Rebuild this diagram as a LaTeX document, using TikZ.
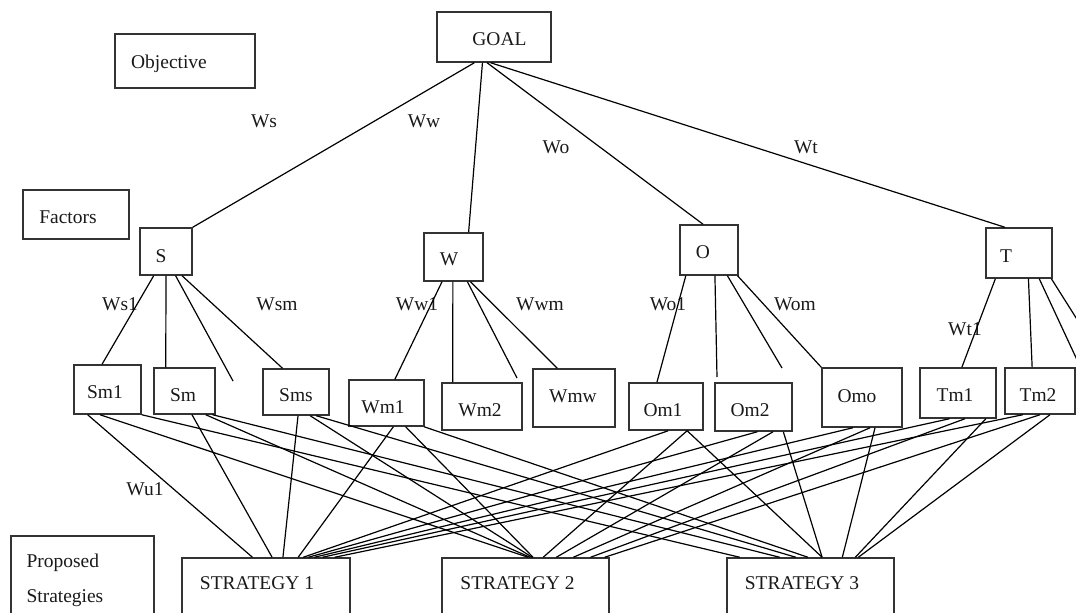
\documentclass[tikz,border=0pt]{standalone}
\usepackage{fontspec}
\setmainfont{Liberation Serif}
\usetikzlibrary{calc}
\begin{document}
\begin{tikzpicture}[x=0.75pt,y=-0.75pt,
  box/.style={draw=black!80, line width=1.1pt, rectangle, inner sep=0pt},
  txt/.style={font=\fontsize{14.6}{17}\selectfont, text height=10pt, text depth=0pt, inner sep=0pt, text=black!90},
  link/.style={line width=0.9pt, black}]
\clip (0,0) rectangle (1076,613);
% level 0 / legend
\node[box, minimum width=105pt, minimum height=40.5pt, label={[txt, xshift=-12pt, yshift=-0.75pt]center:Objective}] (obj) at (185,61) {};
\node[box, minimum width=85.5pt, minimum height=37.5pt, label={[txt, xshift=4.1pt, yshift=-1.5pt]center:GOAL}] (goal) at (494,37) {};
\node[box, minimum width=79.5pt, minimum height=36.75pt, label={[txt, xshift=-6pt, yshift=-1.9pt]center:Factors}] (fac) at (76,214.5) {};
% level 1
\node[box, minimum width=39pt, minimum height=35.25pt, label={[txt, xshift=-3.75pt, yshift=-3.4pt]center:S}] (S) at (166,251.5) {};
\node[box, minimum width=44.25pt, minimum height=36pt, label={[txt, xshift=-3.4pt, yshift=-1.5pt]center:W}] (W) at (453.5,257) {};
\node[box, minimum width=43.5pt, minimum height=37.5pt, label={[txt, xshift=-4.5pt, yshift=-1.5pt]center:O}] (O) at (709,250) {};
\node[box, minimum width=49.5pt, minimum height=37.5pt, label={[txt, xshift=-9.75pt, yshift=-2.25pt]center:T}] (T) at (1019,253) {};
% level 2
\node[box, minimum width=50.25pt, minimum height=36.75pt, label={[txt, xshift=-1.9pt, yshift=-1.9pt]center:Sm1}] (Sm1) at (107.5,389.5) {};
\node[box, minimum width=45.75pt, minimum height=34.5pt, label={[txt, xshift=-1.1pt, yshift=-3pt]center:Sm}] (Sm) at (184.5,391) {};
\node[box, minimum width=49.5pt, minimum height=34.5pt, label={[txt, xshift=0pt, yshift=-2.25pt]center:Sms}] (Sms) at (296,392) {};
\node[box, minimum width=56.25pt, minimum height=34.5pt, label={[txt, xshift=-2.6pt, yshift=-3pt]center:Wm1}] (Wm1) at (386.5,403) {};
\node[box, minimum width=60pt, minimum height=35.25pt, label={[txt, xshift=-1.5pt, yshift=-2.6pt]center:Wm2}] (Wm2) at (482,406.5) {};
\node[box, minimum width=61.5pt, minimum height=43.5pt, label={[txt, xshift=-0.75pt, yshift=1.5pt]center:Wmw}] (Wmw) at (574,398) {};
\node[box, minimum width=55.5pt, minimum height=35.25pt, label={[txt, xshift=-2.25pt, yshift=-2.6pt]center:Om1}] (Om1) at (666,406.5) {};
\node[box, minimum width=57.75pt, minimum height=36pt, label={[txt, xshift=-2.6pt, yshift=-2.25pt]center:Om2}] (Om2) at (753.5,407) {};
\node[box, minimum width=60pt, minimum height=44.25pt, label={[txt, xshift=-3.75pt, yshift=1.1pt]center:Omo}] (Omo) at (862,397.5) {};
\node[box, minimum width=57pt, minimum height=37.5pt, label={[txt, xshift=-2.25pt, yshift=-1.5pt]center:Tm1}] (Tm1) at (958,393) {};
\node[box, minimum width=52.5pt, minimum height=34.5pt, label={[txt, xshift=-1.5pt, yshift=-3pt]center:Tm2}] (Tm2) at (1040,391) {};
% level 3
\node[box, minimum width=107.25pt, minimum height=85.5pt,
  label={[txt, anchor=west, xshift=12pt, yshift=-19.5pt]north west:Proposed},
  label={[txt, anchor=west, xshift=12pt, yshift=-45.75pt]north west:Strategies}] (ps) at (82.5,593) {};
\node[box, minimum width=126pt, minimum height=69pt, label={[txt, xshift=-6.75pt, yshift=15.75pt]center:STRATEGY 1}] (S1) at (266,604) {};
\node[box, minimum width=125.25pt, minimum height=69pt, label={[txt, xshift=-6pt, yshift=15.75pt]center:STRATEGY 2}] (S2) at (525.5,604) {};
\node[box, minimum width=125.25pt, minimum height=69pt, label={[txt, xshift=-6.4pt, yshift=15.75pt]center:STRATEGY 3}] (S3) at (810.5,604) {};
% weight labels
\node[txt] (lWs) at (264,121) {Ws};
\node[txt] (lWw) at (424,121) {Ww};
\node[txt] (lWo) at (556,147) {Wo};
\node[txt] (lWt) at (806,147) {Wt};
\node[txt] (lWs1) at (120,304) {Ws1};
\node[txt] (lWsm) at (277,304) {Wsm};
\node[txt] (lWw1) at (417,304) {Ww1};
\node[txt] (lWwm) at (540,304) {Wwm};
\node[txt] (lWo1) at (668,304) {Wo1};
\node[txt] (lWom) at (795,304) {Wom};
\node[txt] (lWt1) at (965,329) {Wt1};
\node[txt] (lWu1) at (145,489) {Wu1};
% free ends
\coordinate (fS) at (233,381);
\coordinate (fW) at (517,378);
\coordinate (fO1) at (717,377);
\coordinate (fO2) at (782,368);
\coordinate (fT1) at (1078,362);
\coordinate (fT2) at (1085,332);
% goal to factors
\foreach \fa/\b/\fb in {0.33/S/1.0, 0.40/W/0.75, 0.44/O/0.40, 0.47/T/0.29}
  \draw[link] ($(goal.south west)!\fa!(goal.south east)$) -- ($(\b.north west)!\fb!(\b.north east)$);
% factors to sub-factors
\foreach \a/\fa/\b/\fb in {S/0.27/Sm1/0.42, S/0.5/Sm/0.2, S/0.80/Sms/0.30,
  W/0.31/Wm1/0.61, W/0.49/Wm2/0.14, W/0.78/Wmw/0.30,
  O/0.11/Om1/0.38, O/0.98/Omo/0.0,
  T/0.15/Tm1/0.55, T/0.64/Tm2/0.39}
  \draw[link] ($(\a.south west)!\fa!(\a.south east)$) -- ($(\b.north west)!\fb!(\b.north east)$);
\foreach \a/\fa/\b in {S/0.68/fS, W/0.73/fW, O/0.60/fO1, O/0.81/fO2, T/0.80/fT1, T/0.98/fT2}
  \draw[link] ($(\a.south west)!\fa!(\a.south east)$) -- (\b);
% sub-factors to strategies
\foreach \a/\fa/\b/\fb in {
  Sm1/0.21/S1/0.42, Sm1/0.39/S2/0.515, Sm1/1.0/S3/0.08,
  Sm/0.62/S1/0.536, Sm/0.84/S2/0.527, Sm/0.95/S3/0.317,
  Sms/0.53/S1/0.60, Sms/0.71/S2/0.539, Sms/0.80/S3/0.413,
  Wm1/0.59/S1/0.69, Wm1/0.75/S2/0.545, Wm1/0.99/S3/0.485,
  Om1/0.53/S1/0.72, Om1/0.78/S2/0.605, Om1/0.78/S3/0.569,
  Om2/0.55/S1/0.75, Om2/0.75/S2/0.683, Om2/0.88/S3/0.569,
  Omo/0.39/S1/0.786, Omo/0.60/S2/0.784, Omo/0.66/S3/0.689,
  Tm1/0.39/S1/0.833, Tm1/0.59/S2/0.886, Tm1/0.86/S3/0.766,
  Tm2/0.26/S1/0.905, Tm2/0.50/S2/0.97, Tm2/0.64/S3/0.784}
  \draw[link] ($(\a.south west)!\fa!(\a.south east)$) -- ($(\b.north west)!\fb!(\b.north east)$);
\end{tikzpicture}
\end{document}
